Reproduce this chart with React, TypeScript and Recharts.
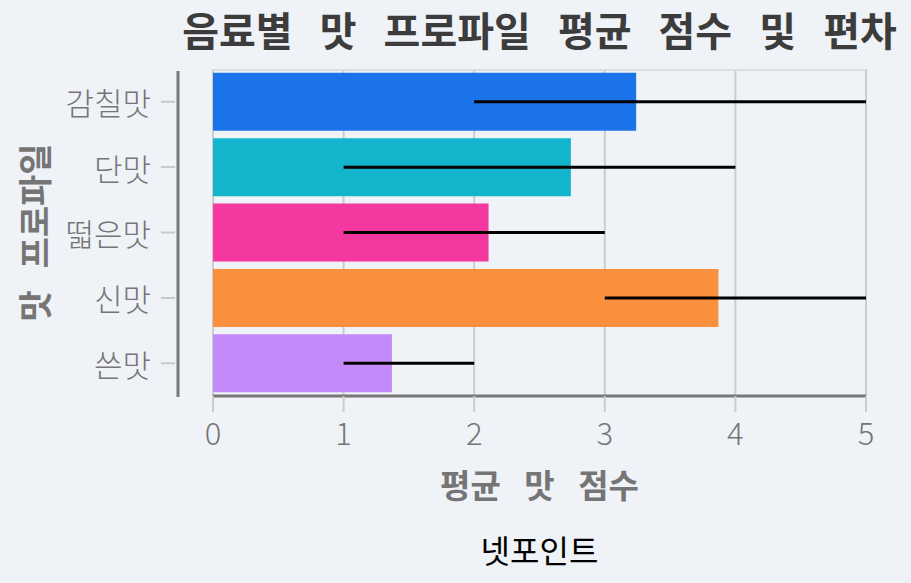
import { BarChart, Bar, XAxis, YAxis, CartesianGrid, ErrorBar, Cell } from "recharts";

const categories = ["감칠맛", "단맛", "떫은맛", "신맛", "쓴맛"];
const means = [3.24, 2.74, 2.11, 3.87, 1.37];
const lows = [2, 1, 1, 3, 1];
const highs = [5, 4, 3, 5, 2];
const colors = ["#1a73e8", "#12b5cb", "#f538a0", "#fa903e", "#c58af9"];
const xTicks = [0, 1, 2, 3, 4, 5];

const data = categories.map((name, i) => ({
  name,
  mean: means[i],
  err: [means[i] - lows[i], highs[i] - means[i]],
}));

const W = 911;
const H = 583;
const MARGIN = { top: 69, right: 45, bottom: 87, left: 0 };
const Y_W = 213;
const X_H = 100;
const PLOT_BOTTOM = H - MARGIN.bottom - X_H;
const PLOT_CX = Y_W + (W - MARGIN.right - Y_W) / 2;
const FONT = "'Noto Sans CJK KR', 'Noto Sans', sans-serif";

const YTick = ({ x, y, payload }: any) => (
  <g>
    <line x1={x - 52} x2={x - 38} y1={y} y2={y} stroke="#c8c8c8" strokeWidth={2} />
    <text
      x={x - 62}
      y={y}
      textAnchor="end"
      dominantBaseline="central"
      fontSize={31}
      fontWeight={300}
      fontFamily={FONT}
      fill="#757575"
    >
      {payload.value}
    </text>
  </g>
);

export default function App() {
  const midY = (MARGIN.top + PLOT_BOTTOM) / 2;
  return (
    <div
      style={{
        position: "absolute",
        left: 0,
        top: 0,
        width: W,
        height: H,
        background: "#eff3f8",
      }}
    >
      <BarChart
        width={W}
        height={H}
        data={data}
        layout="vertical"
        margin={MARGIN}
        barCategoryGap="5.7%"
      >
        <CartesianGrid horizontal={false} stroke="#cccccc" strokeWidth={2} />
        <CartesianGrid vertical={false} horizontalPoints={[MARGIN.top + 1]} stroke="#dddddd" strokeWidth={2} />
        <XAxis
          type="number"
          domain={[0, 5]}
          ticks={xTicks}
          height={X_H}
          tickSize={16}
          tickMargin={11}
          tickLine={{ stroke: "#cccccc", strokeWidth: 2 }}
          axisLine={{ stroke: "#777777", strokeWidth: 3 }}
          tick={{ fontSize: 31, fontWeight: 300, fill: "#757575", fontFamily: FONT }}
        />
        <YAxis
          type="category"
          dataKey="name"
          width={Y_W}
          axisLine={false}
          tickLine={false}
          tickSize={0}
          tickMargin={0}
          tick={<YTick />}
          interval={0}
        />
        <Bar dataKey="mean" isAnimationActive={false}>
          {data.map((d, i) => (
            <Cell key={d.name} fill={colors[i]} />
          ))}
          <ErrorBar
            dataKey="err"
            direction="x"
            width={0}
            stroke="#000000"
            strokeWidth={3}
            isAnimationActive={false}
          />
        </Bar>
        <line
          x1={Y_W - 35}
          x2={Y_W - 35}
          y1={MARGIN.top + 2}
          y2={PLOT_BOTTOM + 1}
          stroke="#777777"
          strokeWidth={3}
        />
        <text
          x={PLOT_CX}
          y={46}
          textAnchor="middle"
          fontSize={40}
          fontWeight={700}
          fontFamily={FONT}
          fill="#3c3c3c"
          wordSpacing={18}
        >
          음료별 맛 프로파일 평균 점수 및 편차
        </text>
        <text
          x={PLOT_CX}
          y={498}
          textAnchor="middle"
          fontSize={33}
          fontWeight={700}
          fontFamily={FONT}
          fill="#757575"
          wordSpacing={16}
        >
          평균 맛 점수
        </text>
        <text
          x={33}
          y={midY}
          transform={`rotate(-90 33 ${midY})`}
          textAnchor="middle"
          dominantBaseline="central"
          fontSize={34}
          fontWeight={700}
          fontFamily={FONT}
          fill="#757575"
          wordSpacing={14}
        >
          맛 프로파일
        </text>
        <text
          x={PLOT_CX}
          y={563}
          textAnchor="middle"
          fontSize={32}
          fontFamily={FONT}
          fill="#000000"
        >
          넷포인트
        </text>
      </BarChart>
    </div>
  );
}
